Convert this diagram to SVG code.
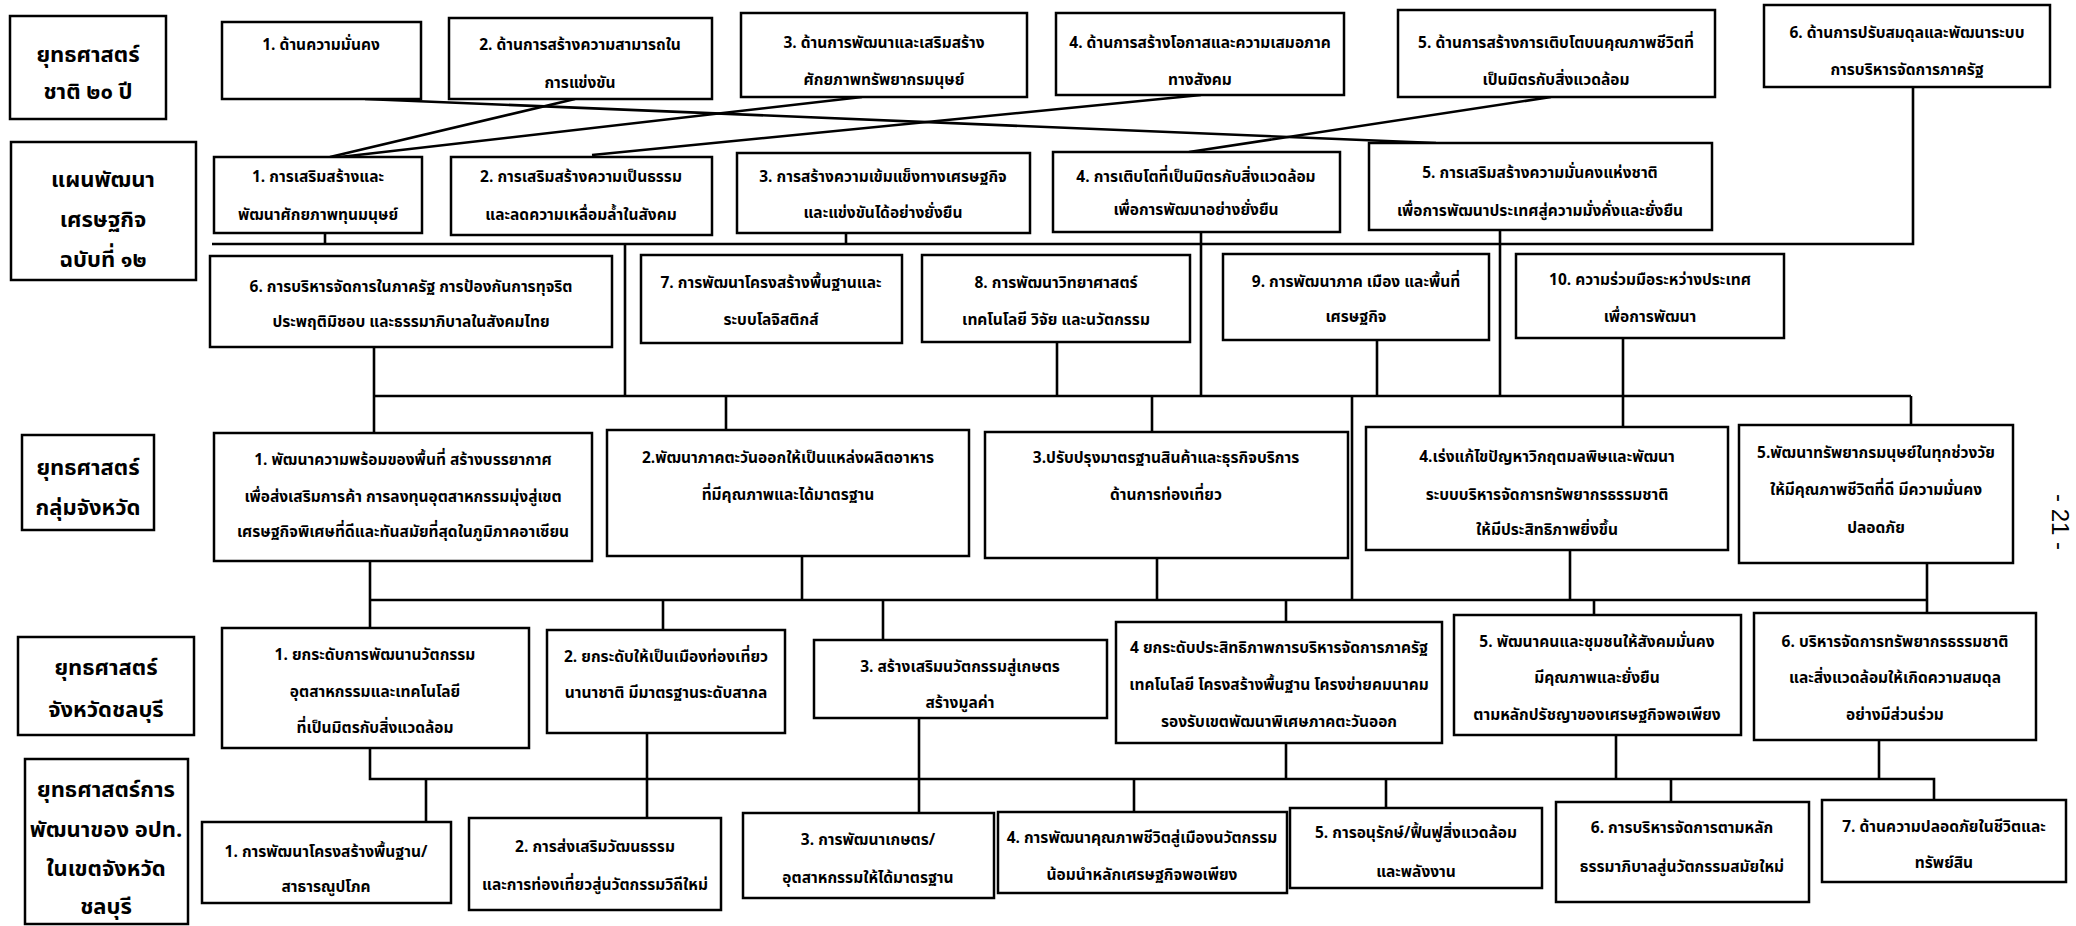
<svg xmlns="http://www.w3.org/2000/svg" width="2076" height="926" viewBox="0 0 2076 926">
<style>
.b{fill:#fff;stroke:#000;stroke-width:2.5}
.t{font-family:"Noto Sans Thai","Noto Sans","DejaVu Sans",sans-serif;font-size:15.5px;font-weight:bold;text-anchor:middle;dominant-baseline:central;fill:#000}
.l{font-size:22px;font-weight:bold}
.c{stroke:#000;stroke-width:2.6;fill:none}
</style>
<rect width="2076" height="926" fill="#fff"/>
<g id="connectors" class="c">
<line x1="365" y1="99" x2="1436" y2="143"/>
<line x1="575" y1="99" x2="330" y2="157"/>
<line x1="862" y1="97" x2="340" y2="157"/>
<line x1="1201" y1="95" x2="592" y2="155"/>
<line x1="1551" y1="97" x2="1189" y2="152"/>
<polyline points="1913,87 1913,244 212,244"/>
<line x1="325" y1="233" x2="325" y2="244"/>
<line x1="846" y1="233" x2="846" y2="244"/>
<line x1="1201" y1="232" x2="1201" y2="396"/>
<line x1="1500" y1="230" x2="1500" y2="396"/>
<line x1="625" y1="244" x2="625" y2="396"/>
<line x1="374" y1="396" x2="1911" y2="396"/>
<line x1="374" y1="347" x2="374" y2="433"/>
<line x1="1057" y1="342" x2="1057" y2="396"/>
<line x1="1377" y1="340" x2="1377" y2="396"/>
<line x1="1623" y1="338" x2="1623" y2="427"/>
<line x1="726" y1="396" x2="726" y2="430"/>
<line x1="1152" y1="396" x2="1152" y2="432"/>
<line x1="1911" y1="396" x2="1911" y2="425"/>
<line x1="1352" y1="396" x2="1352" y2="600"/>
<line x1="370" y1="600" x2="1927" y2="600"/>
<line x1="370" y1="561" x2="370" y2="628"/>
<line x1="663" y1="600" x2="663" y2="630"/>
<line x1="802" y1="556" x2="802" y2="600"/>
<line x1="883" y1="600" x2="883" y2="640"/>
<line x1="1157" y1="558" x2="1157" y2="600"/>
<line x1="1286" y1="600" x2="1286" y2="622"/>
<line x1="1570" y1="550" x2="1570" y2="600"/>
<line x1="1594" y1="600" x2="1594" y2="615"/>
<line x1="1927" y1="563" x2="1927" y2="613"/>
<polyline points="370,748 370,779 1934,779 1934,800"/>
<line x1="426" y1="779" x2="426" y2="822"/>
<line x1="647" y1="733" x2="647" y2="818"/>
<line x1="919" y1="718" x2="919" y2="813"/>
<line x1="1286" y1="743" x2="1286" y2="779"/>
<line x1="1134" y1="779" x2="1134" y2="812"/>
<line x1="1386" y1="779" x2="1386" y2="808"/>
<line x1="1616" y1="735" x2="1616" y2="779"/>
<line x1="1671" y1="779" x2="1671" y2="802"/>
<line x1="1879" y1="740" x2="1879" y2="779"/>
</g>
<g id="label1"><rect class="b" x="10" y="16" width="156" height="103"/><text class="t l" x="88" y="55">ยุทธศาสตร์</text><text class="t l" x="88" y="92">ชาติ ๒๐ ปี</text></g>
<g id="ns1"><rect class="b" x="222" y="22" width="199" height="77"/><text class="t" x="321" y="45">1. ด้านความมั่นคง</text></g>
<g id="ns2"><rect class="b" x="449" y="18" width="263" height="81"/><text class="t" x="580" y="45">2. ด้านการสร้างความสามารถใน</text><text class="t" x="580" y="83">การแข่งขัน</text></g>
<g id="ns3"><rect class="b" x="741" y="13" width="286" height="84"/><text class="t" x="884" y="43">3. ด้านการพัฒนาและเสริมสร้าง</text><text class="t" x="884" y="80">ศักยภาพทรัพยากรมนุษย์</text></g>
<g id="ns4"><rect class="b" x="1056" y="13" width="288" height="82"/><text class="t" x="1200" y="43">4. ด้านการสร้างโอกาสและความเสมอภาค</text><text class="t" x="1200" y="80">ทางสังคม</text></g>
<g id="ns5"><rect class="b" x="1398" y="10" width="317" height="87"/><text class="t" x="1556" y="43">5. ด้านการสร้างการเติบโตบนคุณภาพชีวิตที่</text><text class="t" x="1556" y="80">เป็นมิตรกับสิ่งแวดล้อม</text></g>
<g id="ns6"><rect class="b" x="1764" y="5" width="286" height="82"/><text class="t" x="1907" y="33">6. ด้านการปรับสมดุลและพัฒนาระบบ</text><text class="t" x="1907" y="70">การบริหารจัดการภาครัฐ</text></g>
<g id="label2"><rect class="b" x="11" y="142" width="185" height="138"/><text class="t l" x="103" y="180">แผนพัฒนา</text><text class="t l" x="103" y="220">เศรษฐกิจ</text><text class="t l" x="103" y="260">ฉบับที่ ๑๒</text></g>
<g id="p1"><rect class="b" x="214" y="157" width="208" height="76"/><text class="t" x="318" y="177">1. การเสริมสร้างและ</text><text class="t" x="318" y="215">พัฒนาศักยภาพทุนมนุษย์</text></g>
<g id="p2"><rect class="b" x="451" y="157" width="261" height="78"/><text class="t" x="581" y="177">2. การเสริมสร้างความเป็นธรรม</text><text class="t" x="581" y="215">และลดความเหลื่อมล้ำในสังคม</text></g>
<g id="p3"><rect class="b" x="737" y="153" width="293" height="80"/><text class="t" x="883" y="177">3. การสร้างความเข้มแข็งทางเศรษฐกิจ</text><text class="t" x="883" y="213">และแข่งขันได้อย่างยั่งยืน</text></g>
<g id="p4"><rect class="b" x="1053" y="152" width="287" height="80"/><text class="t" x="1196" y="177">4. การเติบโตที่เป็นมิตรกับสิ่งแวดล้อม</text><text class="t" x="1196" y="210">เพื่อการพัฒนาอย่างยั่งยืน</text></g>
<g id="p5"><rect class="b" x="1369" y="143" width="343" height="87"/><text class="t" x="1540" y="173">5. การเสริมสร้างความมั่นคงแห่งชาติ</text><text class="t" x="1540" y="211">เพื่อการพัฒนาประเทศสู่ความมั่งคั่งและยั่งยืน</text></g>
<g id="p6"><rect class="b" x="210" y="256" width="402" height="91"/><text class="t" x="411" y="287">6. การบริหารจัดการในภาครัฐ การป้องกันการทุจริต</text><text class="t" x="411" y="322">ประพฤติมิชอบ และธรรมาภิบาลในสังคมไทย</text></g>
<g id="p7"><rect class="b" x="641" y="255" width="261" height="88"/><text class="t" x="771" y="283">7. การพัฒนาโครงสร้างพื้นฐานและ</text><text class="t" x="771" y="320">ระบบโลจิสติกส์</text></g>
<g id="p8"><rect class="b" x="922" y="255" width="268" height="87"/><text class="t" x="1056" y="283">8. การพัฒนาวิทยาศาสตร์</text><text class="t" x="1056" y="320">เทคโนโลยี วิจัย และนวัตกรรม</text></g>
<g id="p9"><rect class="b" x="1223" y="254" width="266" height="86"/><text class="t" x="1356" y="282">9. การพัฒนาภาค เมือง และพื้นที่</text><text class="t" x="1356" y="317">เศรษฐกิจ</text></g>
<g id="p10"><rect class="b" x="1516" y="254" width="268" height="84"/><text class="t" x="1650" y="280">10. ความร่วมมือระหว่างประเทศ</text><text class="t" x="1650" y="317">เพื่อการพัฒนา</text></g>
<g id="label3"><rect class="b" x="22" y="435" width="132" height="95"/><text class="t l" x="88" y="468">ยุทธศาสตร์</text><text class="t l" x="88" y="508">กลุ่มจังหวัด</text></g>
<g id="g1"><rect class="b" x="214" y="433" width="378" height="128"/><text class="t" x="403" y="460">1. พัฒนาความพร้อมของพื้นที่  สร้างบรรยากาศ</text><text class="t" x="403" y="497">เพื่อส่งเสริมการค้า  การลงทุนอุตสาหกรรมมุ่งสู่เขต</text><text class="t" x="403" y="532">เศรษฐกิจพิเศษที่ดีและทันสมัยที่สุดในภูมิภาคอาเซียน</text></g>
<g id="g2"><rect class="b" x="607" y="430" width="362" height="126"/><text class="t" x="788" y="458">2.พัฒนาภาคตะวันออกให้เป็นแหล่งผลิตอาหาร</text><text class="t" x="788" y="495">ที่มีคุณภาพและได้มาตรฐาน</text></g>
<g id="g3"><rect class="b" x="985" y="432" width="363" height="126"/><text class="t" x="1166" y="458">3.ปรับปรุงมาตรฐานสินค้าและธุรกิจบริการ</text><text class="t" x="1166" y="495">ด้านการท่องเที่ยว</text></g>
<g id="g4"><rect class="b" x="1366" y="427" width="362" height="123"/><text class="t" x="1547" y="457">4.เร่งแก้ไขปัญหาวิกฤตมลพิษและพัฒนา</text><text class="t" x="1547" y="495">ระบบบริหารจัดการทรัพยากรธรรมชาติ</text><text class="t" x="1547" y="530">ให้มีประสิทธิภาพยิ่งขึ้น</text></g>
<g id="g5"><rect class="b" x="1739" y="425" width="274" height="138"/><text class="t" x="1876" y="453">5.พัฒนาทรัพยากรมนุษย์ในทุกช่วงวัย</text><text class="t" x="1876" y="490">ให้มีคุณภาพชีวิตที่ดี  มีความมั่นคง</text><text class="t" x="1876" y="528">ปลอดภัย</text></g>
<g id="label4"><rect class="b" x="18" y="637" width="176" height="98"/><text class="t l" x="106" y="668">ยุทธศาสตร์</text><text class="t l" x="106" y="710">จังหวัดชลบุรี</text></g>
<g id="c1"><rect class="b" x="222" y="628" width="307" height="120"/><text class="t" x="375" y="655">1. ยกระดับการพัฒนานวัตกรรม</text><text class="t" x="375" y="692">อุตสาหกรรมและเทคโนโลยี</text><text class="t" x="375" y="728">ที่เป็นมิตรกับสิ่งแวดล้อม</text></g>
<g id="c2"><rect class="b" x="547" y="630" width="238" height="103"/><text class="t" x="666" y="657">2. ยกระดับให้เป็นเมืองท่องเที่ยว</text><text class="t" x="666" y="693">นานาชาติ มีมาตรฐานระดับสากล</text></g>
<g id="c3"><rect class="b" x="814" y="640" width="293" height="78"/><text class="t" x="960" y="667">3. สร้างเสริมนวัตกรรมสู่เกษตร</text><text class="t" x="960" y="703">สร้างมูลค่า</text></g>
<g id="c4"><rect class="b" x="1116" y="622" width="326" height="121"/><text class="t" x="1279" y="648">4  ยกระดับประสิทธิภาพการบริหารจัดการภาครัฐ</text><text class="t" x="1279" y="685">เทคโนโลยี โครงสร้างพื้นฐาน โครงข่ายคมนาคม</text><text class="t" x="1279" y="722">รองรับเขตพัฒนาพิเศษภาคตะวันออก</text></g>
<g id="c5"><rect class="b" x="1454" y="615" width="287" height="120"/><text class="t" x="1597" y="642">5. พัฒนาคนและชุมชนให้สังคมมั่นคง</text><text class="t" x="1597" y="678">มีคุณภาพและยั่งยืน</text><text class="t" x="1597" y="715">ตามหลักปรัชญาของเศรษฐกิจพอเพียง</text></g>
<g id="c6"><rect class="b" x="1754" y="613" width="282" height="127"/><text class="t" x="1895" y="642">6. บริหารจัดการทรัพยากรธรรมชาติ</text><text class="t" x="1895" y="678">และสิ่งแวดล้อมให้เกิดความสมดุล</text><text class="t" x="1895" y="715">อย่างมีส่วนร่วม</text></g>
<g id="label5"><rect class="b" x="25" y="759" width="163" height="165"/><text class="t l" x="106" y="790">ยุทธศาสตร์การ</text><text class="t l" x="106" y="830">พัฒนาของ อปท.</text><text class="t l" x="106" y="869">ในเขตจังหวัด</text><text class="t l" x="106" y="907">ชลบุรี</text></g>
<g id="d1"><rect class="b" x="202" y="822" width="249" height="81"/><text class="t" x="326" y="852">1. การพัฒนาโครงสร้างพื้นฐาน/</text><text class="t" x="326" y="887">สาธารณูปโภค</text></g>
<g id="d2"><rect class="b" x="469" y="818" width="252" height="92"/><text class="t" x="595" y="847">2. การส่งเสริมวัฒนธรรม</text><text class="t" x="595" y="885">และการท่องเที่ยวสู่นวัตกรรมวิถีใหม่</text></g>
<g id="d3"><rect class="b" x="743" y="813" width="251" height="85"/><text class="t" x="868" y="840">3. การพัฒนาเกษตร/</text><text class="t" x="868" y="878">อุตสาหกรรมให้ได้มาตรฐาน</text></g>
<g id="d4"><rect class="b" x="998" y="812" width="289" height="81"/><text class="t" x="1142" y="838">4. การพัฒนาคุณภาพชีวิตสู่เมืองนวัตกรรม</text><text class="t" x="1142" y="875">น้อมนำหลักเศรษฐกิจพอเพียง</text></g>
<g id="d5"><rect class="b" x="1290" y="808" width="252" height="80"/><text class="t" x="1416" y="833">5. การอนุรักษ์/ฟื้นฟูสิ่งแวดล้อม</text><text class="t" x="1416" y="872">และพลังงาน</text></g>
<g id="d6"><rect class="b" x="1556" y="802" width="253" height="100"/><text class="t" x="1682" y="828">6. การบริหารจัดการตามหลัก</text><text class="t" x="1682" y="867">ธรรมาภิบาลสู่นวัตกรรมสมัยใหม่</text></g>
<g id="d7"><rect class="b" x="1822" y="800" width="244" height="82"/><text class="t" x="1944" y="827">7. ด้านความปลอดภัยในชีวิตและ</text><text class="t" x="1944" y="863">ทรัพย์สิน</text></g>
<text x="2060" y="522" transform="rotate(90 2060 522)" style="font-family:'Liberation Sans',sans-serif;font-size:24px;text-anchor:middle;dominant-baseline:central">- 21 -</text>
</svg>
